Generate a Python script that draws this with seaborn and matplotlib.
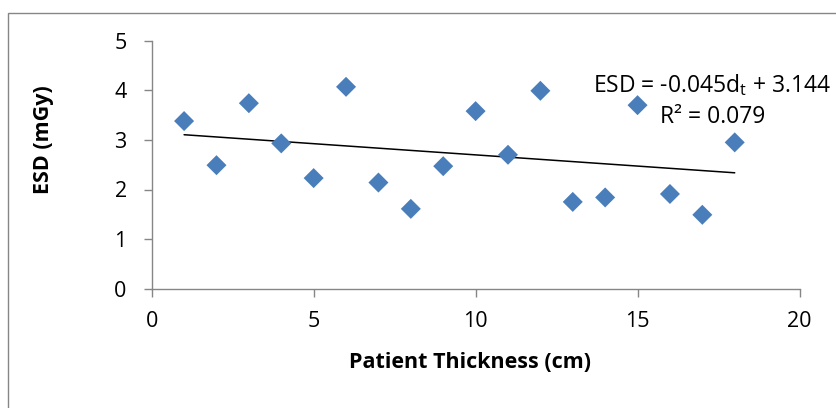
import matplotlib
matplotlib.use("Agg")
import matplotlib.pyplot as plt
import seaborn as sns
import numpy as np
import pandas as pd
from matplotlib.patches import Rectangle

# ---- data ----
thickness_cm = [1, 2, 3, 4, 5, 6, 7, 8, 9, 10, 11, 12, 13, 14, 15, 16, 17, 18]
esd_mgy = [3.38, 2.49, 3.74, 2.93, 2.23, 4.07, 2.14, 1.61, 2.47,
           3.58, 2.70, 3.99, 1.75, 1.84, 3.70, 1.91, 1.49, 2.95]
x_ticks = [0, 5, 10, 15, 20]
y_ticks = [0, 1, 2, 3, 4, 5]
x_label = "Patient Thickness (cm)"
y_label = "ESD (mGy)"
eq_line1 = r"ESD = -0.045d$_\mathrm{t}$ + 3.144"
eq_line2 = "R² = 0.079"

df = pd.DataFrame({"thickness": thickness_cm, "esd": esd_mgy})

sns.set_theme(style="white")
FONT = "Open Sans"
plt.rcParams["font.family"] = [FONT, "DejaVu Sans"]
plt.rcParams["mathtext.fontset"] = "custom"
plt.rcParams["mathtext.rm"] = FONT
plt.rcParams["mathtext.it"] = FONT + ":italic"
plt.rcParams["mathtext.bf"] = FONT + ":bold"

W, H = 836, 408
fig = plt.figure(figsize=(W / 100, H / 100), dpi=100)
fig.patch.set_facecolor("white")
ax_l, ax_r, ax_t, ax_b = 151.7, 799.5, 40.7, 288.7
ax = fig.add_axes([ax_l / W, 1 - ax_b / H, (ax_r - ax_l) / W, (ax_b - ax_t) / H])

sns.scatterplot(data=df, x="thickness", y="esd", ax=ax, marker="D", s=104,
                color="#4A7EBB", edgecolor="none", linewidth=0, zorder=3)
sns.regplot(data=df, x="thickness", y="esd", ax=ax, scatter=False, ci=None,
            truncate=True, line_kws={"color": "black", "linewidth": 1.1, "zorder": 2})

ax.set_xlim(0, 20)
ax.set_ylim(0, 5)
ax.set_xticks(x_ticks)
ax.set_yticks(y_ticks)
ax.set_xticklabels([str(v) for v in x_ticks])
ax.set_yticklabels([str(v) for v in y_ticks])
ax.set_xlabel("")
ax.set_ylabel("")

gray = "#868686"
for s in ["top", "right"]:
    ax.spines[s].set_visible(False)
for s in ["left", "bottom"]:
    ax.spines[s].set_color(gray)
    ax.spines[s].set_linewidth(1.0)
ax.tick_params(axis="both", which="major", direction="out", length=6, width=1.0,
               color=gray, labelsize=15.5, labelcolor="black")
ax.tick_params(axis="x", pad=10, bottom=True)
ax.tick_params(axis="y", pad=12, left=True)

# axis titles
fig.text(470 / W, 1 - 363 / H, x_label, ha="center", va="center",
         fontsize=15.5, fontweight="bold", color="black")
fig.text(43 / W, 1 - 140 / H, y_label, ha="center", va="center", rotation=90,
         fontsize=15.5, fontweight="bold", color="black")

# trendline equation
fig.text(712 / W, 1 - 92 / H, eq_line1, ha="center", va="baseline", fontsize=16.5, color="black")
fig.text(713 / W, 1 - 123 / H, eq_line2, ha="center", va="baseline", fontsize=16.5, color="black")

# chart frame (cropped at right and bottom)
fig.patches.append(Rectangle((7.5 / W, -0.5), 2.0, 1.5 - 12.5 / H, transform=fig.transFigure,
                             fill=False, edgecolor=gray, linewidth=1.0))

fig.savefig("out.png", dpi=100, facecolor="white")
